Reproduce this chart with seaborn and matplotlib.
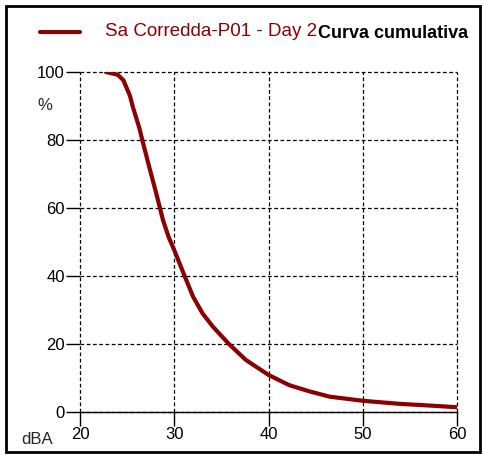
import numpy as np
import pandas as pd
import matplotlib
matplotlib.use('Agg')
import matplotlib.pyplot as plt
from matplotlib.lines import Line2D
from matplotlib.patches import Rectangle
import seaborn as sns

# cumulative curve
dba = [22.75, 24.0, 24.6, 25.3, 25.6, 26.3, 26.7, 27.4, 28.1, 28.8, 29.4, 30.0,
       31.1, 32.0, 33.0, 34.1, 35.8, 37.6, 40.0, 42.2, 44.3, 46.5, 50.0, 53.9,
       57.1, 60.0]
pct = [100.0, 99.2, 97.6, 93.0, 89.8, 83.5, 79.0, 71.5, 64.2, 56.5, 51.5, 47.6,
       40.0, 33.9, 29.0, 25.1, 20.0, 15.3, 10.9, 7.9, 6.1, 4.5, 3.3, 2.4,
       1.9, 1.4]
xticks = [20, 30, 40, 50, 60]
yticks = [0, 20, 40, 60, 80, 100]
series_name = 'Sa Corredda-P01 - Day 2'
title = 'Curva cumulativa'

sns.set_style('white')
plt.rcParams['font.family'] = ['Liberation Sans', 'DejaVu Sans']

df = pd.DataFrame({'dBA': dba, 'pct': pct})
red = '#8b0000'

fig = plt.figure(figsize=(4.83, 4.55), dpi=100)
ax = fig.add_axes([80/483, 1-412/455, 377/483, 340/455])
sns.lineplot(data=df, x='dBA', y='pct', color=red, linewidth=3, ax=ax, legend=False,
             zorder=3)

ax.set_xlim(20, 60)
ax.set_ylim(0, 100)
ax.set_xticks(xticks)
ax.set_yticks(yticks)
ax.set_xlabel('')
ax.set_ylabel('')
for s in ax.spines.values():
    s.set_visible(False)
ax.spines['bottom'].set_visible(True)
ax.spines['bottom'].set_color('black')
ax.spines['bottom'].set_linewidth(1)
ax.grid(True, color='black', linestyle=(0, (3, 2)), linewidth=0.9)
for gl in ax.get_xgridlines() + ax.get_ygridlines():
    gl.set_clip_on(False)
ax.set_axisbelow(True)
ax.tick_params(axis='both', direction='out', length=10, width=1, color='black',
               labelcolor='black', labelsize=12, pad=1, left=True, bottom=True)

fig.text(45/483, 1-105/455, '%', fontsize=12, ha='center', va='center')
fig.text(37/483, 1-440/455, 'dBA', fontsize=12, ha='center', va='center')

fig.add_artist(Line2D([40/483, 80/483], [1-32/455, 1-32/455], color=red, linewidth=3))
fig.text(105/483, 1-32/455, series_name, color=red, fontsize=13.5, va='center')
fig.text(318/483, 1-33/455, title, color='black', fontsize=13, fontweight='bold', va='center')

fig.add_artist(Rectangle((6/483, 1-452/455), 474/483, 446/455, fill=False,
                         edgecolor='black', linewidth=2, transform=fig.transFigure))

fig.savefig('out.png', dpi=100)
